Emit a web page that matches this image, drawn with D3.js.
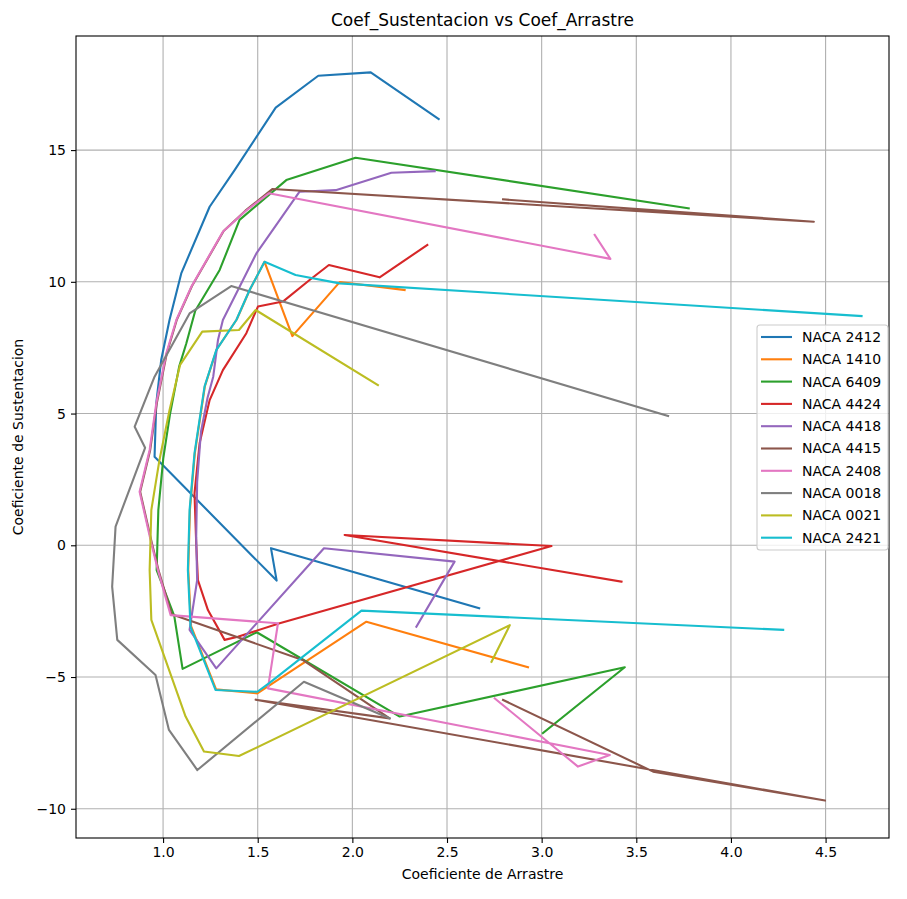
<!DOCTYPE html>
<html>
<head>
<meta charset="utf-8">
<script src="https://cdn.jsdelivr.net/npm/d3@7"></script>
<style>
  html, body { margin: 0; padding: 0; background: #ffffff; }
  svg { display: block; font-family: "DejaVu Sans", sans-serif; }
</style>
</head>
<body>
<svg id="chart" width="907" height="899"></svg>
<script>
// ---------- data ----------
const seriesNames = ["NACA 2412", "NACA 1410", "NACA 6409", "NACA 4424", "NACA 4418",
                     "NACA 4415", "NACA 2408", "NACA 0018", "NACA 0021", "NACA 2421"];
const seriesColors = ["#1f77b4", "#ff7f0e", "#2ca02c", "#d62728", "#9467bd",
                      "#8c564b", "#e377c2", "#7f7f7f", "#bcbd22", "#17becf"];

const cd2412 = [2.67, 1.57, 1.60, 0.955, 0.964, 0.99, 1.034, 1.096, 1.246, 1.378, 1.595, 1.82, 2.097, 2.456];
const cl2412 = [-2.39, -0.11, -1.34, 3.36, 5.39, 7.03, 8.55, 10.32, 12.85, 14.24, 16.61, 17.82, 17.95, 16.18];

const cd1410 = [2.928, 2.074, 1.498, 1.28, 1.148, 1.133, 1.142, 1.168, 1.221, 1.283, 1.389, 1.459, 1.536, 1.683, 1.933, 2.276];
const cl1410 = [-4.63, -2.90, -5.62, -5.47, -3.07, -0.92, 1.36, 3.51, 6.04, 7.43, 8.57, 9.71, 10.76, 7.94, 9.99, 9.69];

const cd6409 = [3.007, 3.439, 2.250, 1.495, 1.103, 1.059, 0.966, 0.975, 1.001, 1.036, 1.085, 1.123, 1.170, 1.299, 1.404, 1.651, 2.017, 3.777];
const cl6409 = [-7.13, -4.63, -6.50, -3.30, -4.69, -2.68, -0.94, 1.34, 3.30, 4.95, 6.78, 7.67, 8.90, 10.45, 12.35, 13.86, 14.71, 12.79];

const cd4424 = [3.422, 1.959, 3.052, 1.616, 1.395, 1.325, 1.237, 1.184, 1.175, 1.166, 1.193, 1.246, 1.316, 1.440, 1.501, 1.633, 1.774, 1.876, 2.144, 2.396];
const cl4424 = [-1.38, 0.39, -0.03, -2.96, -3.47, -3.59, -2.46, -1.32, 0.08, 1.97, 3.87, 5.51, 6.65, 8.05, 9.06, 9.25, 10.07, 10.64, 10.17, 11.40];

const cd4418 = [2.338, 2.540, 1.850, 1.281, 1.140, 1.18, 1.175, 1.18, 1.20, 1.235, 1.265, 1.290, 1.316, 1.493, 1.721, 1.912, 2.206, 2.435];
const cl4418 = [-3.09, -0.62, -0.11, -4.67, -3.21, -1.32, 0.30, 2.40, 4.30, 5.60, 6.40, 7.79, 8.55, 11.08, 13.42, 13.48, 14.14, 14.20];

const cd4415 = [2.796, 4.438, 1.577, 1.435, 1.32, 1.152, 1.073, 1.02, 0.967, 0.932, 0.879, 0.941, 0.978, 1.045, 1.737, 2.197, 1.489, 4.497, 3.589, 2.796];
const cl4415 = [13.13, 12.28, 13.52, 12.70, 11.93, 9.83, 8.57, 7.30, 5.40, 3.62, 2.03, 0.08, -1.00, -2.62, -4.35, -6.57, -5.86, -9.69, -8.59, -5.87];

const cd2408 = [3.280, 3.363, 1.559, 1.431, 1.316, 1.149, 1.070, 1.017, 0.964, 0.929, 0.876, 0.938, 0.975, 1.040, 1.607, 1.554, 3.360, 3.192, 2.752];
const cl2408 = [11.78, 10.87, 13.36, 12.66, 11.90, 9.81, 8.55, 7.29, 5.39, 3.62, 2.03, 0.08, -1.00, -2.65, -2.96, -5.43, -7.96, -8.40, -5.81];

const cd0018 = [3.668, 1.360, 1.140, 0.955, 0.850, 0.905, 0.749, 0.731, 0.758, 0.960, 1.031, 1.181, 1.744, 2.197];
const cl0018 = [4.91, 9.84, 8.80, 6.40, 4.50, 3.70, 0.71, -1.57, -3.59, -4.92, -7.01, -8.53, -5.18, -6.57];

const cd0021 = [2.135, 1.489, 1.401, 1.207, 1.090, 1.034, 0.981, 0.938, 0.929, 0.938, 1.119, 1.216, 1.401, 2.832, 2.735];
const cl0021 = [6.08, 8.93, 8.17, 8.11, 6.85, 5.13, 3.24, 1.34, -0.94, -2.83, -6.50, -7.83, -8.00, -3.03, -4.42];

const cd2421 = [4.276, 2.048, 1.559, 1.498, 1.277, 1.145, 1.131, 1.140, 1.166, 1.219, 1.281, 1.387, 1.457, 1.536, 1.700, 1.933, 4.690];
const cl2421 = [-3.21, -2.48, -5.24, -5.56, -5.49, -3.09, -0.94, 1.34, 3.49, 6.02, 7.41, 8.55, 9.69, 10.76, 10.26, 9.94, 8.70];

const xTicks = [1.0, 1.5, 2.0, 2.5, 3.0, 3.5, 4.0, 4.5];
const yTicks = [-10, -5, 0, 5, 10, 15];

const titleText = "Coef_Sustentacion vs Coef_Arrastre";
const xLabelText = "Coeficiente de Arrastre";
const yLabelText = "Coeficiente de Sustentacion";

// ---------- build series table ----------
const cdList = [cd2412, cd1410, cd6409, cd4424, cd4418, cd4415, cd2408, cd0018, cd0021, cd2421];
const clList = [cl2412, cl1410, cl6409, cl4424, cl4418, cl4415, cl2408, cl0018, cl0021, cl2421];
const series = seriesNames.map((name, i) => ({
  name, color: seriesColors[i],
  points: cdList[i].map((c, j) => [c, clList[i][j]])
}));

// ---------- layout ----------
const L = 76, R = 889, T = 36, B = 838;
const svg = d3.select("#chart");

const x = d3.scaleLinear().domain([0.540, 4.835]).range([L, R]);
const y = d3.scaleLinear().domain([-11.11, 19.33]).range([B, T]);

// grid
const grid = svg.append("g");
grid.selectAll("line.gx").data(xTicks).join("line")
  .attr("x1", d => x(d)).attr("x2", d => x(d))
  .attr("y1", T).attr("y2", B)
  .attr("stroke", "#b0b0b0").attr("stroke-width", 1.1);
grid.selectAll("line.gy").data(yTicks).join("line")
  .attr("x1", L).attr("x2", R)
  .attr("y1", d => y(d)).attr("y2", d => y(d))
  .attr("stroke", "#b0b0b0").attr("stroke-width", 1.1);

// lines
const line = d3.line().x(d => x(d[0])).y(d => y(d[1]));
svg.append("g").selectAll("path").data(series).join("path")
  .attr("d", d => line(d.points))
  .attr("fill", "none")
  .attr("stroke", d => d.color)
  .attr("stroke-width", 2.1)
  .attr("stroke-linejoin", "round")
  .attr("stroke-linecap", "square");

// axes
const fmtY = d => (d < 0 ? "\u2212" + Math.abs(d) : String(d));
const xAxis = svg.append("g").attr("transform", `translate(0,${B})`)
  .call(d3.axisBottom(x).tickValues(xTicks).tickFormat(d3.format(".1f")).tickSize(5).tickPadding(4));
const yAxis = svg.append("g").attr("transform", `translate(${L},0)`)
  .call(d3.axisLeft(y).tickValues(yTicks).tickFormat(fmtY).tickSize(5).tickPadding(5));
[xAxis, yAxis].forEach(g => {
  g.select(".domain").remove();
  g.selectAll(".tick line").attr("stroke", "#000").attr("stroke-width", 1.1);
  g.selectAll(".tick text").attr("fill", "#000").style("font-size", "14px")
    .style("font-family", "DejaVu Sans, sans-serif");
});

// frame
svg.append("rect").attr("x", L).attr("y", T).attr("width", R - L).attr("height", B - T)
  .attr("fill", "none").attr("stroke", "#000").attr("stroke-width", 1.1);

// title & labels
svg.append("text").attr("x", (L + R) / 2).attr("y", 26).attr("text-anchor", "middle")
  .style("font-size", "17px").attr("fill", "#000").text(titleText);
svg.append("text").attr("x", (L + R) / 2).attr("y", 879).attr("text-anchor", "middle")
  .style("font-size", "14px").attr("fill", "#000").text(xLabelText);
svg.append("text").attr("transform", `translate(23,${(T + B) / 2}) rotate(-90)`)
  .attr("text-anchor", "middle").style("font-size", "14px").attr("fill", "#000").text(yLabelText);

// legend
const lgX = 757, lgY = 325, lgW = 131, lgH = 225, rowH = 22.3;
const lg = svg.append("g");
lg.append("rect").attr("x", lgX).attr("y", lgY).attr("width", lgW).attr("height", lgH)
  .attr("rx", 3).attr("fill", "#ffffff").attr("fill-opacity", 0.8)
  .attr("stroke", "#cccccc").attr("stroke-width", 1.1);
const items = lg.selectAll("g.item").data(series).join("g")
  .attr("transform", (d, i) => `translate(${lgX},${lgY + 12 + i * rowH})`);
items.append("line").attr("x1", 4).attr("x2", 35).attr("y1", 0).attr("y2", 0)
  .attr("stroke", d => d.color).attr("stroke-width", 2.1);
items.append("text").attr("x", 45).attr("y", 0).attr("dy", "0.35em")
  .style("font-size", "14px").attr("fill", "#000").text(d => d.name);
</script>
</body>
</html>
